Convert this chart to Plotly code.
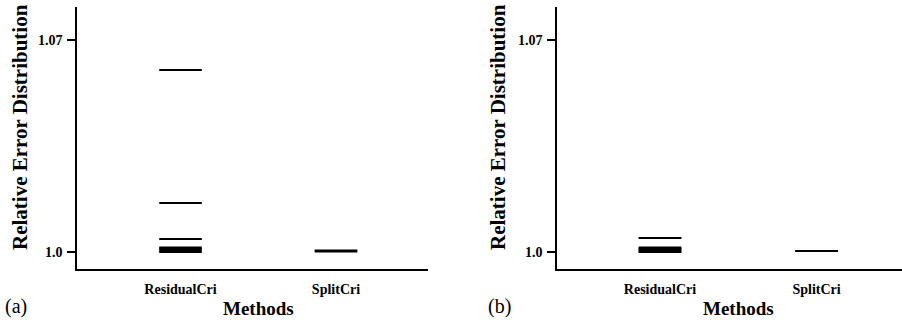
import plotly.graph_objects as go

# ---- data ----
methods = ["ResidualCri", "SplitCri"]
y_ticks = [1.0, 1.07]
y_tick_text = ["1.0", "1.07"]

a_residual = [1.0601, 1.0162, 1.0043, 1.0015, 1.0010, 1.0005, 1.0000]
a_split = [1.0002, 1.0005]
b_residual = [1.0046, 1.0015, 1.0010, 1.0005, 1.0000]
b_split = [1.0003]

panel_a = [a_residual, a_split]
panel_b = [b_residual, b_split]

# ---- styling ----
W, H = 902, 324
FONT = "Liberation Serif, Times New Roman, serif"
HALF = 0.137  # half width of each distribution dash, in category units


def seg_xy(center, values):
    xs, ys = [], []
    for v in values:
        xs += [center - HALF, center + HALF, None]
        ys += [v, v, None]
    return xs, ys


def bold(labels):
    return ["<b>%s</b>" % s for s in labels]


fig = go.Figure()

for panel, xa, ya in [(panel_a, "x", "y"), (panel_b, "x2", "y2")]:
    for i, vals in enumerate(panel):
        xs, ys = seg_xy(i, vals)
        fig.add_trace(go.Scatter(x=xs, y=ys, mode="lines",
                                 line=dict(color="black", width=2),
                                 xaxis=xa, yaxis=ya, showlegend=False,
                                 hoverinfo="skip"))

ydom = [1 - 269 / H, 1 - 7 / H]
yrange = [0.99439, 1.0809]

common_x = dict(tickmode="array", tickvals=[0, 1], ticktext=bold(methods),
                showline=True, linecolor="black", linewidth=1.5,
                ticks="", showgrid=False, zeroline=False,
                tickfont=dict(family=FONT, size=14, color="black"),
                ticklabelstandoff=6)
common_y = dict(tickmode="array", tickvals=y_ticks, ticktext=bold(y_tick_text),
                range=yrange, domain=ydom, showline=True, linecolor="black",
                linewidth=1.5, ticks="outside", ticklen=8, tickwidth=1.5,
                tickcolor="black", showgrid=False, zeroline=False,
                tickfont=dict(family=FONT, size=14, color="black"),
                ticklabelstandoff=2)

fig.update_layout(
    width=W, height=H,
    margin=dict(l=0, r=0, t=0, b=0),
    paper_bgcolor="white", plot_bgcolor="white",
    xaxis=dict(domain=[77 / W, 428 / W], range=[-0.666, 1.592], anchor="y", **common_x),
    yaxis=dict(anchor="x", **common_y),
    xaxis2=dict(domain=[557 / W, 1.0], range=[-0.658, 1.546], anchor="y2", **common_x),
    yaxis2=dict(anchor="x2", **common_y),
)

ann = []
for xc_title, x_ytitle, x_lbl, lbl in [(258, 20, 16, "(a)"), (738, 498, 499, "(b)")]:
    ann.append(dict(text="<b>Methods</b>", x=xc_title / W, y=1 - 308 / H,
                    xref="paper", yref="paper", showarrow=False,
                    xanchor="center", yanchor="middle",
                    font=dict(family=FONT, size=19, color="black")))
    ann.append(dict(text="<b>Relative Error Distribution</b>", x=x_ytitle / W,
                    y=1 - 127 / H, xref="paper", yref="paper", showarrow=False,
                    textangle=-90, xanchor="center", yanchor="middle",
                    font=dict(family=FONT, size=21, color="black")))
    ann.append(dict(text=lbl, x=x_lbl / W, y=1 - 306 / H, xref="paper",
                    yref="paper", showarrow=False, xanchor="center",
                    yanchor="middle", font=dict(family=FONT, size=20, color="black")))
fig.update_layout(annotations=ann)

fig.write_html("out.html")
